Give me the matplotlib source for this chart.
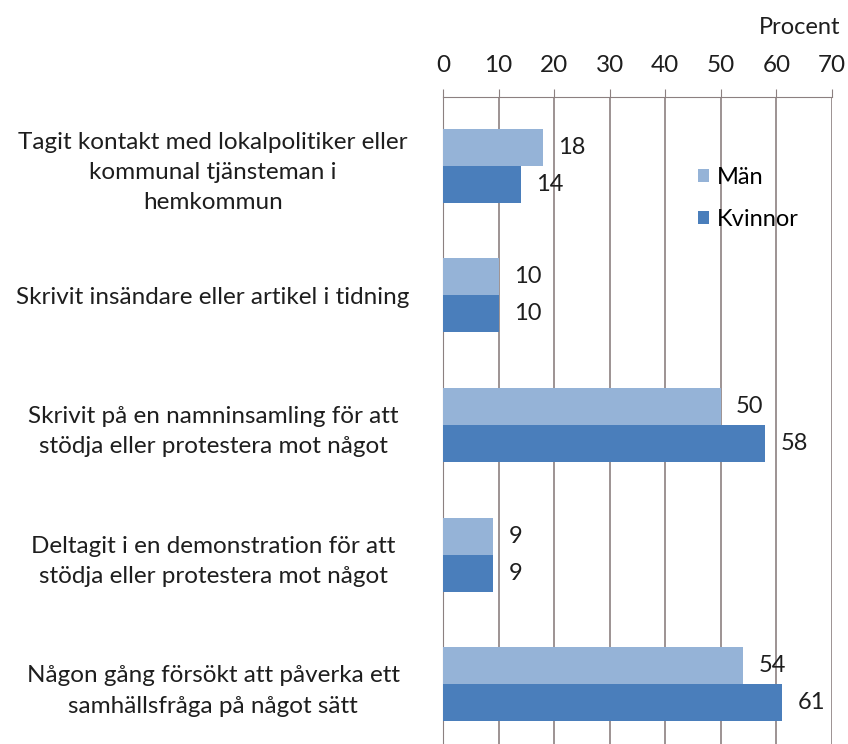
import numpy as np
import matplotlib
matplotlib.use("Agg")
import matplotlib.pyplot as plt

categories = [
    "Tagit kontakt med lokalpolitiker eller\nkommunal tjänsteman i\nhemkommun",
    "Skrivit insändare eller artikel i tidning",
    "Skrivit på en namninsamling för att\nstödja eller protestera mot något",
    "Deltagit i en demonstration för att\nstödja eller protestera mot något",
    "Någon gång försökt att påverka ett\nsamhällsfråga på något sätt",
]
man = [18, 10, 50, 9, 54]
kvinnor = [14, 10, 58, 9, 61]
series_names = ["Män", "Kvinnor"]
xticks = [0, 10, 20, 30, 40, 50, 60, 70]

plt.rcParams["font.family"] = ["Lato", "DejaVu Sans"]
fs = 17
txt = "#1e1e1e"

fig = plt.figure(figsize=(8.48, 7.44), dpi=100)
# axes: left edge at x=443px, right at 832px, top at y=97px, runs off the bottom
ax = fig.add_axes([443 / 848, 0, (832 - 443) / 848, (744 - 97) / 744])

y = np.arange(len(categories))
h = 0.286
c_man = "#95b3d7"
c_kv = "#4a7ebb"

b1 = ax.barh(y - h / 2, man, height=h, color=c_man, label=series_names[0], zorder=3)
b2 = ax.barh(y + h / 2, kvinnor, height=h, color=c_kv, label=series_names[1], zorder=3)

for bars in (b1, b2):
    ax.bar_label(bars, padding=11, fontsize=fs, color=txt)

ax.set_xlim(0, 70)
ax.set_ylim(4.46, -0.53)
ax.set_xticks(xticks)
ax.xaxis.tick_top()
ax.tick_params(axis="x", length=6, color="#8c8080", labelsize=fs + 0.5, pad=9, labelcolor=txt)
ax.set_yticks(y)
ax.set_yticklabels(categories, fontsize=17.5, ha="center", color=txt, linespacing=1.55)
# centre of the label block sits ~230 px left of the axis
ax.tick_params(axis="y", length=0, pad=230 * 0.72)

ax.grid(axis="x", color="#8c8080", linewidth=1.2, zorder=0)
for s in ["right", "bottom"]:
    ax.spines[s].set_visible(False)
ax.spines["top"].set_color("#8c8080")
ax.spines["left"].set_color("#8c8080")

fig.text(840 / 848, 1 - 28 / 744, "Procent", ha="right", va="center", fontsize=fs, color=txt)

ax.legend(loc="upper left", bbox_to_anchor=(0.6, 0.925), frameon=False, fontsize=fs,
          handlelength=0.5, handleheight=0.5, handletextpad=0.3, labelspacing=0.9)

fig.savefig("out.png", dpi=100)
